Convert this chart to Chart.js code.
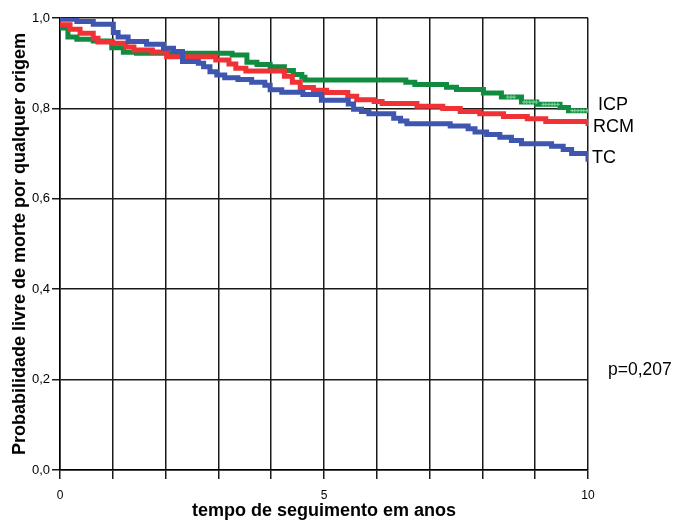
<!DOCTYPE html>
<html><head><meta charset="utf-8">
<script src="https://cdn.jsdelivr.net/npm/chart.js@4/dist/chart.umd.min.js"></script>
<style>html,body{margin:0;padding:0;background:#fff}#wrap{width:675px;height:522px}</style>
</head><body><div id="wrap"><canvas id="c" width="675" height="522"></canvas></div>
<script>
// ---- data ----
const seriesNames = ['ICP', 'RCM', 'TC'];
const icpTime = [0,0.15,0.32,0.63,0.98,1.2,1.45,3.26,3.54,3.73,3.98,4.25,4.42,4.58,4.64,6.55,6.72,7.32,7.51,8.02,8.36,8.74,9.03,9.47,9.63,10];
const icpSurv = [0.978,0.958,0.953,0.949,0.934,0.924,0.922,0.918,0.902,0.897,0.892,0.884,0.875,0.869,0.863,0.858,0.853,0.847,0.842,0.834,0.825,0.814,0.809,0.802,0.795,0.795];
const rcmTime = [0,0.19,0.38,0.63,0.72,1.0,1.25,1.40,1.75,2.02,2.95,3.20,3.33,3.52,4.25,4.40,4.55,4.80,5.05,5.45,5.62,5.95,6.10,6.76,7.25,7.58,7.95,8.40,8.85,9.20,10];
const rcmSurv = [0.985,0.975,0.966,0.955,0.947,0.944,0.936,0.929,0.925,0.914,0.907,0.898,0.889,0.883,0.871,0.858,0.846,0.840,0.835,0.827,0.819,0.815,0.811,0.805,0.800,0.793,0.788,0.782,0.777,0.771,0.761];
const tcTime = [0,0.32,0.63,1.01,1.1,1.29,1.64,1.96,2.15,2.32,2.62,2.72,2.84,2.97,3.12,3.37,3.63,3.88,3.98,4.20,4.60,4.95,5.46,5.56,5.71,5.85,6.32,6.45,6.57,7.39,7.73,7.86,8.08,8.33,8.55,8.74,9.31,9.53,9.69,10];
const tcSurv = [0.997,0.992,0.986,0.968,0.958,0.948,0.942,0.933,0.926,0.904,0.900,0.892,0.881,0.874,0.868,0.864,0.858,0.851,0.841,0.836,0.831,0.818,0.810,0.798,0.793,0.788,0.778,0.772,0.766,0.761,0.755,0.748,0.742,0.736,0.729,0.722,0.716,0.709,0.700,0.682];
const icpCensorTimes = [8.48,8.54,8.60,8.79,8.84,8.90,8.96,9.02,9.15,9.20,9.26,9.32,9.37,9.43,9.70,9.75,9.81,9.87,9.92,9.98];
const xTickLabels = [0, 5, 10];
const pValueText = 'p=0,207';

const F = "'Liberation Sans', Arial, Helvetica, sans-serif";
const pts = (t, s) => t.map((v, i) => ({x: v, y: s[i]}));
const stepAt = (t, s, x) => { let v = s[0]; for (let i = 0; i < t.length; i++) { if (t[i] <= x) v = s[i]; } return v; };

const endLabels = {
  id: 'endLabels',
  afterDraw(chart) {
    const {ctx, chartArea, scales} = chart;
    const y = scales.y;
    ctx.save();
    ctx.fillStyle = '#000';
    ctx.textBaseline = 'middle';
    ctx.textAlign = 'left';
    ctx.font = '18px ' + F;
    const place = [[10, 0.808], [5, 0.758], [4, 0.691]];
    seriesNames.forEach((n, i) => ctx.fillText(n, chartArea.right + place[i][0], y.getPixelForValue(place[i][1])));
    ctx.font = '17.5px ' + F;
    ctx.fillText(pValueText, chartArea.right + 20, y.getPixelForValue(0.22));
    ctx.restore();
  }
};

new Chart(document.getElementById('c'), {
  type: 'line',
  data: {
    datasets: [
      {label: 'TC', data: pts(tcTime, tcSurv), borderColor: '#3e56b0', borderWidth: 5, stepped: 'before', pointRadius: 0, fill: false, borderJoinStyle: 'miter', order: 1},
      {label: 'RCM', data: pts(rcmTime, rcmSurv), borderColor: '#f03237', borderWidth: 5, stepped: 'before', pointRadius: 0, fill: false, borderJoinStyle: 'miter', order: 2},
      {label: 'ICP censored', data: icpCensorTimes.map(t => ({x: t, y: stepAt(icpTime, icpSurv, t)})), showLine: false, pointStyle: 'cross', pointRadius: 2, borderColor: '#7fd69a', borderWidth: 1, order: 2.5},
      {label: 'ICP', data: pts(icpTime, icpSurv), borderColor: '#108c40', borderWidth: 5, stepped: 'before', pointRadius: 0, fill: false, borderJoinStyle: 'miter', order: 3}
    ]
  },
  options: {
    responsive: false,
    animation: false,
    events: [],
    layout: {padding: {left: 0, top: 18, right: 87, bottom: 0}},
    plugins: {legend: {display: false}, tooltip: {enabled: false}},
    scales: {
      x: {
        type: 'linear', min: 0, max: 10,
        ticks: {stepSize: 1, autoSkip: false, maxRotation: 0, padding: 9, color: '#000', font: {family: F, size: 12},
          callback: v => xTickLabels.includes(v) ? String(v) : ''},
        grid: {color: '#1a1a1a', lineWidth: 1.5, tickLength: 9, drawTicks: true},
        border: {color: '#000', width: 1.5},
        title: {display: true, text: 'tempo de seguimento em anos', color: '#000', font: {family: F, size: 18, weight: 'bold', lineHeight: 1.2}, padding: {top: 0, bottom: 0}},
        afterFit(s) { s.height = 52; }
      },
      y: {
        type: 'linear', min: 0, max: 1,
        ticks: {stepSize: 0.2, padding: 2, color: '#000', font: {family: F, size: 13},
          callback: v => v.toFixed(1).replace('.', ',')},
        grid: {color: '#1a1a1a', lineWidth: 1.5, tickLength: 8, drawTicks: true},
        border: {color: '#000', width: 1.5},
        title: {display: true, text: 'Probabilidade livre de morte por qualquer origem', color: '#000', font: {family: F, size: 18, weight: 'bold', lineHeight: 1}, padding: {top: 11, bottom: 0}},
        afterFit(s) { s.width = 60; }
      }
    }
  },
  plugins: [endLabels]
});
</script>
</body></html>
